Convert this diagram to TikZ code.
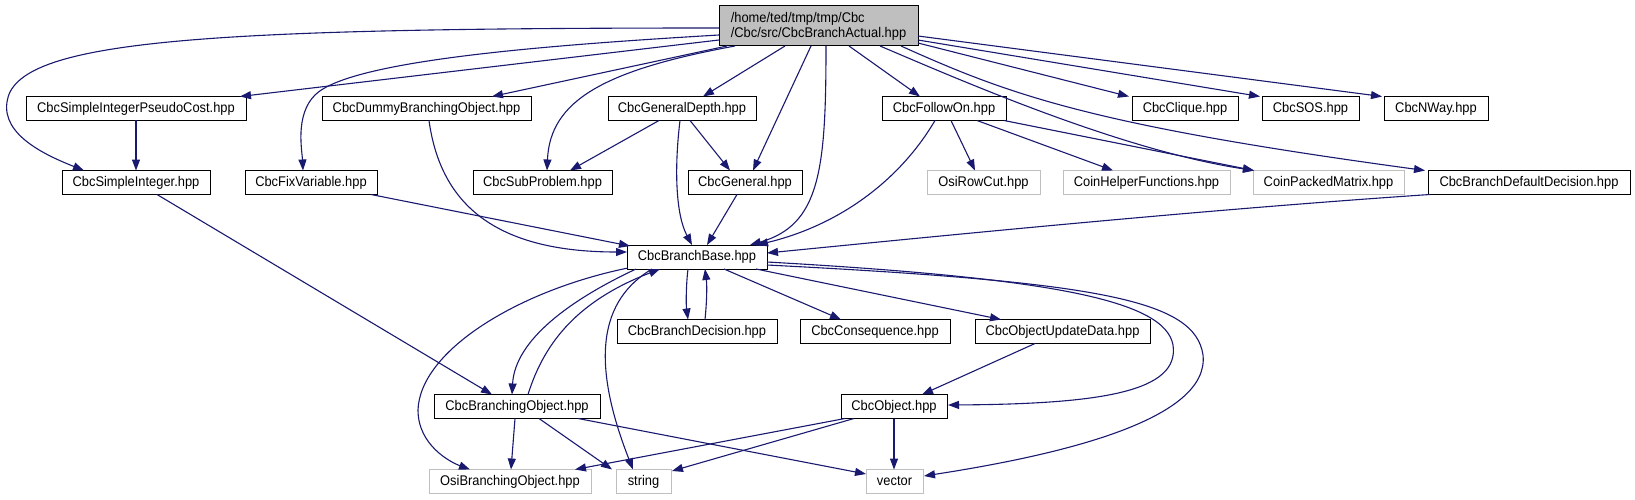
\documentclass[tikz,border=0pt]{standalone}
\usepackage{fontspec}
\setmainfont{Liberation Sans}[FakeStretch=0.92]
\usetikzlibrary{arrows.meta}
\definecolor{edgeblue}{HTML}{191970}
\definecolor{lightgrey}{HTML}{BFBFBF}
\begin{document}
\begin{tikzpicture}[x=1pt,y=-1pt,
  box/.style={draw=black,line width=1pt,fill=white,minimum height=24pt,inner sep=0pt,font=\fontsize{14}{15}\selectfont},
  gbox/.style={box,draw=lightgrey},
  e/.style={draw=edgeblue,line width=1.1pt,-{Triangle[length=11pt,width=8pt]}}]
\useasboundingbox[fill=white] (0,0) rectangle (1635,500);
% nodes
\node[box,fill=lightgrey,minimum width=199pt,minimum height=40pt,align=left] (root) at (818.5,26) {/home/ted/tmp/tmp/Cbc\\/Cbc/src/CbcBranchActual.hpp};
\node[box,minimum width=220pt] (pseudo) at (136,108.5) {CbcSimpleIntegerPseudoCost.hpp};
\node[box,minimum width=209pt] (dummy) at (426.5,108.5) {CbcDummyBranchingObject.hpp};
\node[box,minimum width=148pt] (gdepth) at (682,108.5) {CbcGeneralDepth.hpp};
\node[box,minimum width=124pt] (followon) at (944,108.5) {CbcFollowOn.hpp};
\node[box,minimum width=106pt] (clique) at (1185,108.5) {CbcClique.hpp};
\node[box,minimum width=97pt] (sos) at (1310.5,108.5) {CbcSOS.hpp};
\node[box,minimum width=104pt] (nway) at (1436,108.5) {CbcNWay.hpp};
\node[box,minimum width=148pt] (simpleint) at (136,182.5) {CbcSimpleInteger.hpp};
\node[box,minimum width=132pt] (fixvar) at (311,182.5) {CbcFixVariable.hpp};
\node[box,minimum width=139pt] (subprob) at (542.5,182.5) {CbcSubProblem.hpp};
\node[box,minimum width=114pt] (general) at (745,182.5) {CbcGeneral.hpp};
\node[gbox,minimum width=113pt] (rowcut) at (983.5,182.5) {OsiRowCut.hpp};
\node[gbox,minimum width=167pt] (helper) at (1146.5,182.5) {CoinHelperFunctions.hpp};
\node[gbox,minimum width=151pt] (packed) at (1328.5,182.5) {CoinPackedMatrix.hpp};
\node[box,minimum width=202pt] (defdec) at (1529,182.5) {CbcBranchDefaultDecision.hpp};
\node[box,minimum width=140pt] (base) at (697,257) {CbcBranchBase.hpp};
\node[box,minimum width=160pt] (bdec) at (697,331.5) {CbcBranchDecision.hpp};
\node[box,minimum width=150pt] (conseq) at (875,331.5) {CbcConsequence.hpp};
\node[box,minimum width=175pt] (objupd) at (1062.5,331.5) {CbcObjectUpdateData.hpp};
\node[box,minimum width=166pt] (bobj) at (517,406.5) {CbcBranchingObject.hpp};
\node[box,minimum width=106pt] (object) at (894,406.5) {CbcObject.hpp};
\node[gbox,minimum width=162pt] (osib) at (510,481.5) {OsiBranchingObject.hpp};
\node[gbox,minimum width=55pt] (string) at (643.5,481.5) {string};
\node[gbox,minimum width=57pt] (vector) at (894.5,481.5) {vector};
% edges from root
\draw[e] ([shift={(-99.5,2)}]root.center) .. controls (200,28) and (15,40) .. (7,102) .. controls (2,135) and (45,155) .. ([shift={(-52,-12)}]simpleint.center);
\draw[e] ([shift={(-99.5,14)}]root.center) -- ([shift={(104,-12)}]pseudo.center);
\draw[e] ([shift={(-99.5,9)}]root.center) .. controls (550,45) and (350,60) .. (315,95) .. controls (295,115) and (302,150) .. ([shift={(-8,-12)}]fixvar.center);
\draw[e] ([shift={(-91.5,20)}]root.center) -- ([shift={(65.5,-12)}]dummy.center);
\draw[e] ([shift={(-83.5,20)}]root.center) .. controls (605,70) and (550,100) .. ([shift={(4.5,-12)}]subprob.center);
\draw[e] ([shift={(-33.5,20)}]root.center) -- ([shift={(21,-12)}]gdepth.center);
\draw[e] ([shift={(-7.5,20)}]root.center) -- ([shift={(8,-12)}]general.center);
\draw[e] ([shift={(7.5,20)}]root.center) .. controls (826,170) and (820,225) .. ([shift={(53,-12)}]base.center);
\draw[e] ([shift={(30.5,20)}]root.center) -- ([shift={(-24,-12)}]followon.center);
\draw[e] ([shift={(61.5,20)}]root.center) .. controls (960,80) and (1120,150) .. ([shift={(-74.5,-12)}]packed.center);
\draw[e] ([shift={(82.5,20)}]root.center) .. controls (1010,95) and (1090,125) .. ([shift={(-104,-12)}]defdec.center);
\draw[e] ([shift={(99.5,17)}]root.center) -- ([shift={(-56,-12)}]clique.center);
\draw[e] ([shift={(99.5,14)}]root.center) -- ([shift={(-50.5,-12)}]sos.center);
\draw[e] ([shift={(99.5,10)}]root.center) -- ([shift={(-54,-12)}]nway.center);
% second row
\draw[e] ([shift={(0,12)}]pseudo.center) -- ([shift={(0,-12)}]simpleint.center);
\draw[e] ([shift={(2.5,12)}]dummy.center) .. controls (440,200) and (490,252) .. ([shift={(-70,-5)}]base.center);
\draw[e] ([shift={(-23,12)}]gdepth.center) -- ([shift={(27.5,-12)}]subprob.center);
\draw[e] ([shift={(8,12)}]gdepth.center) -- ([shift={(-15,-12)}]general.center);
\draw[e] ([shift={(-2,12)}]gdepth.center) .. controls (674,170) and (676,215) .. ([shift={(-5,-12)}]base.center);
\draw[e] ([shift={(7,12)}]followon.center) -- ([shift={(-8.5,-12)}]rowcut.center);
\draw[e] ([shift={(33,12)}]followon.center) -- ([shift={(-33.5,-12)}]helper.center);
\draw[e] ([shift={(60,12)}]followon.center) -- ([shift={(-74.5,-12)}]packed.center);
\draw[e] ([shift={(-9,12)}]followon.center) .. controls (900,180) and (840,225) .. ([shift={(60,-12)}]base.center);
% third row
\draw[e] ([shift={(21,12)}]simpleint.center) -- ([shift={(-25,-12)}]bobj.center);
\draw[e] ([shift={(60,12)}]fixvar.center) -- ([shift={(-67,-11)}]base.center);
\draw[e] ([shift={(-8,12)}]general.center) -- ([shift={(10,-12)}]base.center);
\draw[e] ([shift={(-99,12)}]defdec.center) .. controls (1200,210) and (950,235) .. ([shift={(70,-4)}]base.center);
% from base
\draw[e] ([shift={(-9,12)}]base.center) .. controls (686,285) and (686,305) .. ([shift={(-9,-12)}]bdec.center);
\draw[e] ([shift={(8,-12)}]bdec.center) .. controls (707,300) and (707,285) .. ([shift={(8,12)}]base.center);
\draw[e] ([shift={(27,12)}]base.center) -- ([shift={(-34,-12)}]conseq.center);
\draw[e] ([shift={(59,12)}]base.center) -- ([shift={(-61.5,-12)}]objupd.center);
\draw[e] ([shift={(70,5)}]base.center) .. controls (1050,278) and (1165,300) .. (1173,345) .. controls (1180,392) and (1100,404) .. ([shift={(54,-1.5)}]object.center);
\draw[e] ([shift={(70,8)}]base.center) .. controls (1100,282) and (1195,300) .. (1203,355) .. controls (1210,420) and (1060,455) .. ([shift={(29.5,-5.5)}]vector.center);
\draw[e] ([shift={(-69,11)}]base.center) .. controls (520,290) and (420,350) .. (418,410) .. controls (418,445) and (450,462) .. ([shift={(-40,-12)}]osib.center);
\draw[e] ([shift={(-61,12)}]base.center) .. controls (570,300) and (515,340) .. ([shift={(-5,-12)}]bobj.center);
\draw[e] ([shift={(11,-12)}]bobj.center) .. controls (545,340) and (580,300) .. ([shift={(-37,12)}]base.center);
\draw[e] ([shift={(-45,12)}]base.center) .. controls (600,300) and (590,360) .. ([shift={(-10.5,-12)}]string.center);
% lower rows
\draw[e] ([shift={(-27.5,12)}]objupd.center) -- ([shift={(28,-12)}]object.center);
\draw[e] ([shift={(-2,12)}]bobj.center) -- ([shift={(1,-12)}]osib.center);
\draw[e] ([shift={(22,12)}]bobj.center) -- ([shift={(-31.5,-12)}]string.center);
\draw[e] ([shift={(61,12)}]bobj.center) -- ([shift={(-28.5,-7.5)}]vector.center);
\draw[e] ([shift={(-49,12)}]object.center) -- ([shift={(65,-12)}]osib.center);
\draw[e] ([shift={(-40,12)}]object.center) -- ([shift={(28.5,-10.5)}]string.center);
\draw[e] ([shift={(0,12)}]object.center) -- ([shift={(-0.5,-12)}]vector.center);
\end{tikzpicture}
\end{document}
